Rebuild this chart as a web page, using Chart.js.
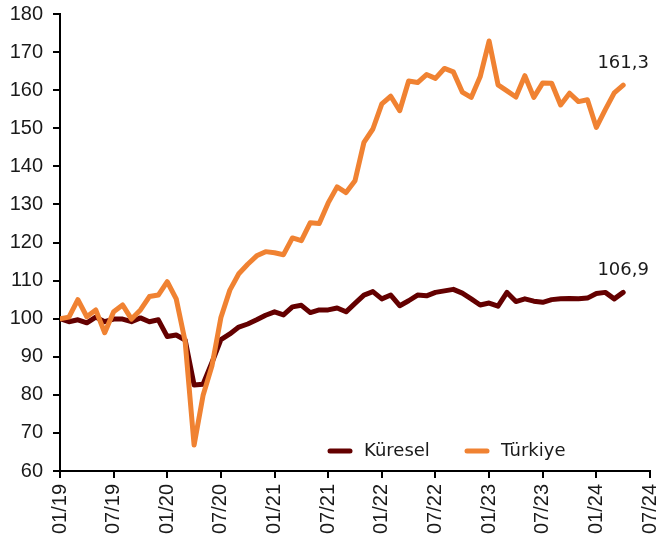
<!DOCTYPE html>
<html>
<head>
<meta charset="utf-8">
<script src="https://cdn.jsdelivr.net/npm/chart.js@4.4.1/dist/chart.umd.min.js"></script>
<style>
  body { margin: 0; background: #fff; }
  #wrap { width: 660px; height: 551px; }
</style>
</head>
<body>
<div id="wrap"><canvas id="chart"></canvas></div>
<script>
/*=======================================
 Data
========================================*/

// x tick labels, one every 6 months (index 0 = 01/19)
const tickLabels = ['01/19', '07/19', '01/20', '07/20', '01/21', '07/21',
                    '01/22', '07/22', '01/23', '07/23', '01/24', '07/24'];

// monthly values, 01/19 .. 04/24
const kuresel = [
  100, 99.2, 99.7, 98.9, 100.4, 99.2, 99.9, 99.9, 99.2, 100.2, 99.2, 99.7,
  95.3, 95.7, 94.4, 82.6, 82.8, 88.5, 94.5, 96, 97.8, 98.6, 99.7, 100.9,
  101.8, 101, 103.1, 103.5, 101.6, 102.3, 102.3, 102.8, 101.8, 104, 106.2, 107.1,
  105.2, 106.2, 103.4, 104.7, 106.2, 106, 106.9, 107.3, 107.7, 106.7, 105.2, 103.6,
  104.1, 103.3, 106.9, 104.5, 105.2, 104.6, 104.3, 105, 105.2, 105.3, 105.2, 105.4,
  106.6, 106.9, 105.2, 106.9
];
const turkiye = [
  100, 100.4, 105, 100.5, 102.3, 96.3, 101.8, 103.6, 99.9, 102.3, 105.8, 106.2,
  109.7, 105.2, 94, 66.8, 79.8, 87.6, 100.3, 107.5, 111.8, 114.3, 116.5, 117.6,
  117.3, 116.8, 121.2, 120.5, 125.2, 125, 130.4, 134.6, 133.1, 136.2, 146.3, 149.8,
  156.4, 158.4, 154.6, 162.4, 162, 164.1, 163.1, 165.7, 164.8, 159.5, 158.1, 163.5,
  172.9, 161.4, 159.8, 158.2, 163.8, 158.1, 161.9, 161.8, 156.1, 159.2, 157, 157.5,
  150.2, 154.9, 159.3, 161.3
];

// labels shown above the last point of each line
const lastLabels = ['106,9', '161,3'];

const toPoints = arr => arr.map((v, i) => ({ x: i, y: v }));

/*=======================================
 Plugins
========================================*/

// legend drawn inside the plot, near the bottom
const insideLegend = {
  id: 'insideLegend',
  afterDraw(chart) {
    const ctx = chart.ctx;
    const slots = [330, 467]; // left x of each legend marker
    ctx.save();
    ctx.font = '18px "DejaVu Sans"';
    ctx.textBaseline = 'middle';
    chart.data.datasets.forEach((ds, i) => {
      let x = slots[i];
      let y = 451;
      ctx.strokeStyle = ds.borderColor;
      ctx.lineWidth = 5;
      ctx.lineCap = 'round';
      ctx.beginPath();
      ctx.moveTo(x, y);
      ctx.lineTo(x + 20, y);
      ctx.stroke();
      ctx.fillStyle = '#1a1a1a';
      ctx.fillText(ds.label, x + 34, y);
    });
    ctx.restore();
  }
};

// value label over the last point of each series
const endLabels = {
  id: 'endLabels',
  afterDatasetsDraw(chart) {
    const ctx = chart.ctx;
    ctx.save();
    ctx.font = '18px "DejaVu Sans"';
    ctx.fillStyle = '#1a1a1a';
    ctx.textAlign = 'center';
    ctx.textBaseline = 'middle';
    chart.data.datasets.forEach((ds, i) => {
      let meta = chart.getDatasetMeta(i);
      let pt = meta.data[meta.data.length - 1];
      ctx.fillText(lastLabels[i], pt.x, pt.y - 22);
    });
    ctx.restore();
  }
};

/*=======================================
 Chart
========================================*/

const axisFont = { family: '"Liberation Sans", Arial, sans-serif', size: 20 };

new Chart(document.getElementById('chart'), {
  type: 'line',
  data: {
    datasets: [
      {
        label: 'Küresel',
        data: toPoints(kuresel),
        borderColor: '#640000',
        borderWidth: 5,
        pointRadius: 0,
        tension: 0,
        borderJoinStyle: 'round',
        borderCapStyle: 'round',
        order: 1
      },
      {
        label: 'Türkiye',
        data: toPoints(turkiye),
        borderColor: '#F08232',
        borderWidth: 5,
        pointRadius: 0,
        tension: 0,
        borderJoinStyle: 'round',
        borderCapStyle: 'round',
        order: 0
      }
    ]
  },
  options: {
    responsive: true,
    maintainAspectRatio: false,
    animation: false,
    layout: { padding: { top: 14, right: 10, left: 0, bottom: 0 } },
    plugins: {
      legend: { display: false },
      tooltip: { enabled: false }
    },
    scales: {
      x: {
        type: 'linear',
        min: 0,
        max: 66,
        afterFit: s => { s.height = 80; s.paddingRight = 0; s.paddingLeft = 0; },
        border: { color: '#000', width: 2 },
        grid: { drawOnChartArea: false, color: '#000', lineWidth: 2, tickLength: 7 },
        ticks: {
          stepSize: 6,
          autoSkip: false,
          minRotation: 90,
          maxRotation: 90,
          padding: 6,
          color: '#1a1a1a',
          font: axisFont,
          callback: v => tickLabels[v / 6]
        }
      },
      y: {
        min: 60,
        max: 180,
        afterFit: s => { s.width = 60; s.paddingTop = 0; s.paddingBottom = 0; },
        border: { color: '#000', width: 2 },
        grid: { drawOnChartArea: false, color: '#000', lineWidth: 2, tickLength: 7 },
        ticks: {
          stepSize: 10,
          padding: 10,
          color: '#1a1a1a',
          font: axisFont
        }
      }
    }
  },
  plugins: [insideLegend, endLabels]
});
</script>
</body>
</html>
